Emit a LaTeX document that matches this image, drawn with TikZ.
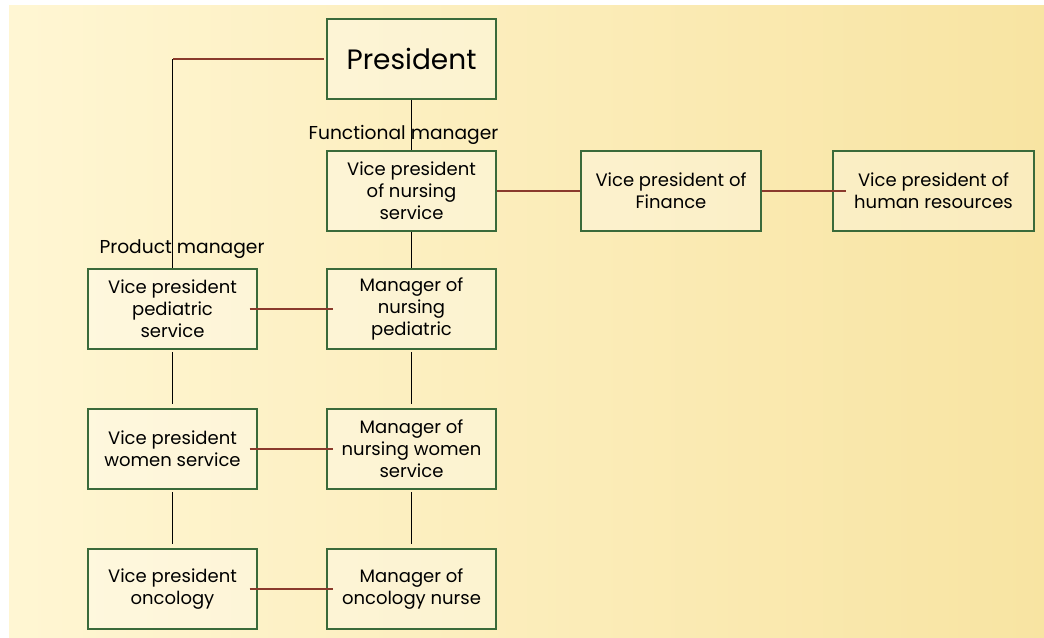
\documentclass[tikz,border=0pt]{standalone}
\usepackage{fontspec}
\setmainfont{Poppins}
\definecolor{boxgreen}{HTML}{3A6A3A}
\definecolor{linkred}{HTML}{8A3A2C}
\definecolor{bgleft}{HTML}{FFF6D3}
\definecolor{bgright}{HTML}{F8E4A2}
\tikzset{
  unit/.style={draw=boxgreen, line width=1.1pt, fill=white, fill opacity=0.3, text opacity=1,
    minimum width=126.75pt, minimum height=60pt, inner sep=0pt, align=center,
    font=\fontsize{13.5}{16.5}\selectfont},
  tag/.style={inner sep=0pt, font=\fontsize{14}{16.5}\selectfont},
  hlink/.style={draw=linkred, line width=1pt},
  vlink/.style={draw=black, line width=1pt}
}
\begin{document}
\begin{tikzpicture}[x=0.75pt, y=-0.75pt]
\useasboundingbox (0,0) rectangle (1044,637);
\fill[left color=bgleft, right color=bgright] (9,5) rectangle (1044,637);

% top of the chart
\node[unit, font=\fontsize{21}{24}\selectfont] (pres) at (411.5,59) {President};
\node[unit] (vpnurse) at (411.5,191) {Vice president\\of nursing\\service};
\node[unit, minimum width=135pt] (vpfin) at (671,191) {Vice president of\\Finance};
\node[unit, minimum width=150.75pt] (vphr) at (933.5,191) {Vice president of\\human resources};

% product side
\node[unit] (vpped) at (172.5,309) {Vice president\\pediatric\\service};
\node[unit] (vpwom) at (172.5,449) {Vice president\\women service};
\node[unit] (vponc) at (172.5,589) {Vice president\\oncology};

% functional side
\node[unit] (mnped) at (411.5,309) {Manager of\\nursing\\pediatric};
\node[unit] (mnwom) at (411.5,449) {Manager of\\nursing women\\service};
\node[unit] (mnonc) at (411.5,589) {Manager of\\oncology nurse};

\node[tag] (func) at (403.5,135) {Functional manager};
\node[tag] (prod) at (182,249) {Product manager};

\draw[hlink] ([xshift=-2pt]pres.west) -- (pres.west -| vpped.north) coordinate (corner);
\draw[vlink] (corner) -- (vpped.north);
\draw[vlink] (pres) -- (vpnurse);
\draw[vlink] (vpnurse) -- (mnped);
\draw[hlink] (vpnurse) -- (vpfin);
\draw[hlink, shorten >=-10pt] (vpfin) -- (vphr);
\foreach \a/\b in {vpped/mnped, vpwom/mnwom, vponc/mnonc}{
\draw[hlink, shorten <=-6pt, shorten >=-5pt] (\a) -- (\b);
}
\foreach \a/\b in {vpped/vpwom, vpwom/vponc, mnped/mnwom, mnwom/mnonc}{
\draw[vlink, shorten <=2pt, shorten >=3pt] (\a) -- (\b);
}
\end{tikzpicture}
\end{document}
